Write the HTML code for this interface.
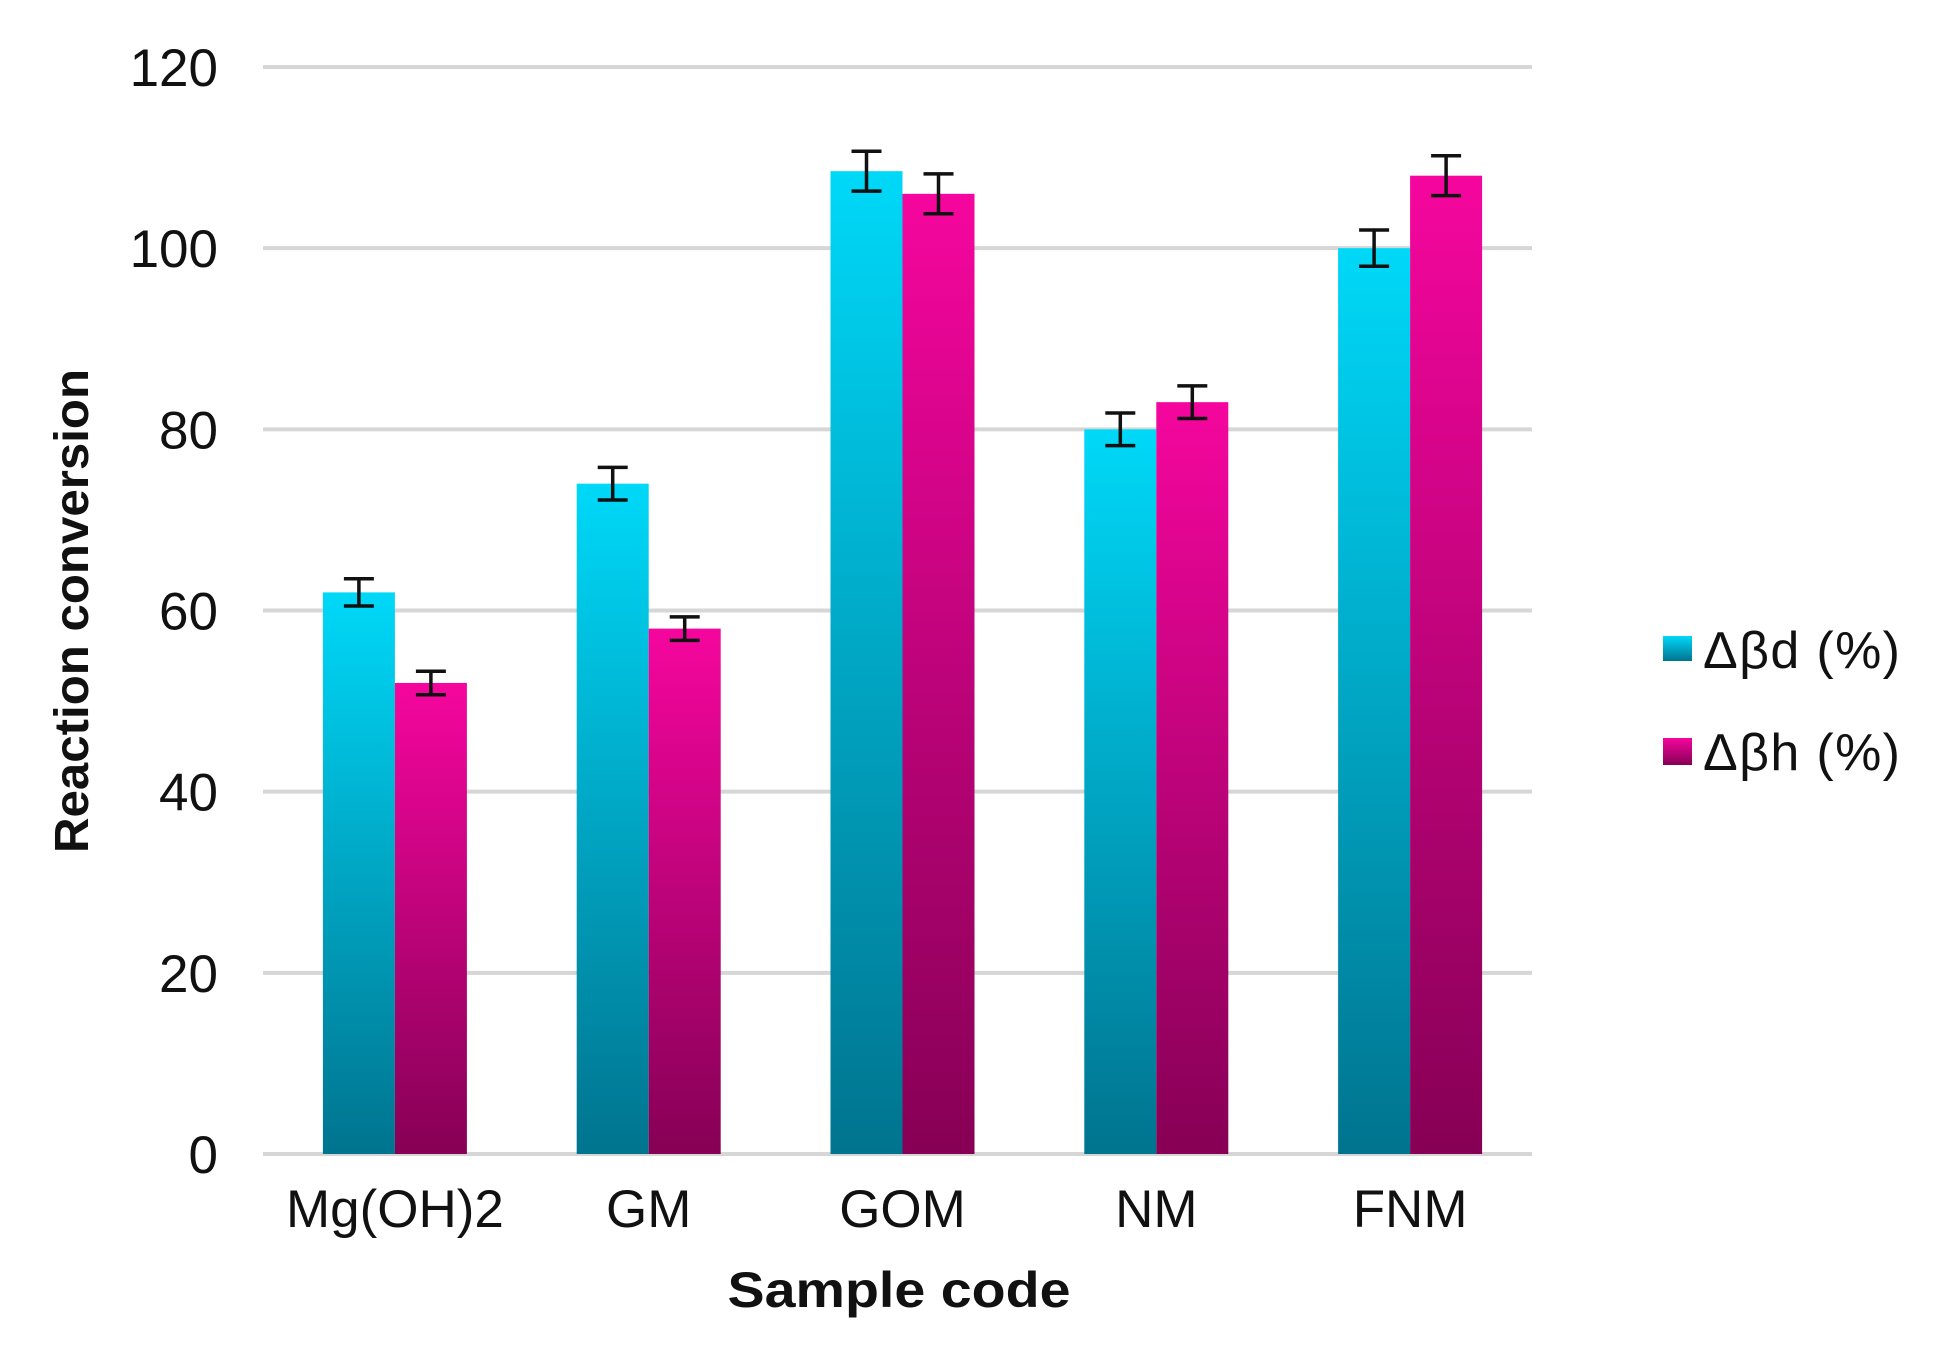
<!DOCTYPE html>
<html><head><meta charset="utf-8"><style>
html,body{margin:0;padding:0;background:#fff;}
svg{display:block;font-family:"Liberation Sans",Arial,sans-serif;}
</style></head><body>
<svg id="chart" width="1937" height="1353" viewBox="0 0 1937 1353">
<defs>
<linearGradient id="gc" x1="0" y1="0" x2="0" y2="1"><stop offset="0" stop-color="#00d8f8"/><stop offset="1" stop-color="#00748f"/></linearGradient>
<linearGradient id="gm" x1="0" y1="0" x2="0" y2="1"><stop offset="0" stop-color="#f5069e"/><stop offset="1" stop-color="#860055"/></linearGradient>
</defs>
<g id="grid"></g>
<g id="yticks"></g>
<g id="bars"></g>
<g id="xticks"></g>
<text transform="translate(88,611) rotate(-90)" text-anchor="middle" font-size="48" font-weight="bold" textLength="484" lengthAdjust="spacingAndGlyphs" fill="#111">Reaction conversion</text>
<text x="899" y="1307" text-anchor="middle" font-size="50" font-weight="bold" textLength="343" lengthAdjust="spacingAndGlyphs" fill="#111">Sample code</text>
<g>
<g><rect x="1663" y="636" width="29" height="25" fill="url(#gc)"/><text x="1703" y="668" font-size="52" textLength="197" fill="#111">Δβd (%)</text></g>
<g><rect x="1663" y="738" width="29" height="27" fill="url(#gm)"/><text x="1703" y="770" font-size="52" textLength="197" fill="#111">Δβh (%)</text></g>
</g>
</svg>
<script>
const categories = ["Mg(OH)2","GM","GOM","NM","FNM"];
const dbdValues = [62,74,108.5,80,100];
const dbhValues = [52,58,106,83,108];
const dbdErrors = [1.5,1.8,2.2,1.8,2];
const dbhErrors = [1.3,1.3,2.2,1.8,2.2];
const yTicks = [0,20,40,60,80,100,120];

const NS="http://www.w3.org/2000/svg";
const x0=263,x1=1532,yBase=1154,yTop=67,yMax=120;
const y=v=>yBase-(v/yMax)*(yBase-yTop);
const band=(x1-x0)/categories.length;
const cx=i=>x0+5+band*(i+0.5);
const bw=72;
function mk(tag,attrs,parent){const e=document.createElementNS(NS,tag);for(const k in attrs)e.setAttribute(k,attrs[k]);parent.appendChild(e);return e;}
const grid=document.getElementById('grid'),yt=document.getElementById('yticks'),bars=document.getElementById('bars'),xt=document.getElementById('xticks');
yTicks.forEach(t=>{
  const l=mk('line',{x1:x0,x2:x1,y1:y(t),y2:y(t),stroke:'#d6d6d6','stroke-width':4},grid);
  
  
  const tx=mk('text',{x:218,y:y(t)+19,'text-anchor':'end','font-size':53,fill:'#111'},yt);
  tx.textContent=t;
  
  
});
categories.forEach((c,i)=>{
  const series=[[dbdValues[i],dbdErrors[i],'url(#gc)',-bw,'dbd'],[dbhValues[i],dbhErrors[i],'url(#gm)',0,'dbh']];
  series.forEach(s=>{
    const r=mk('rect',{x:cx(i)+s[3],y:y(s[0]),width:bw,height:yBase-y(s[0]),fill:s[2]},bars);
    
    
    const ex=cx(i)+s[3]+bw/2;
    const g=mk('g',{stroke:'#111','stroke-width':3.5},bars);
    
    
    mk('line',{x1:ex,x2:ex,y1:y(s[0]+s[1]),y2:y(s[0]-s[1])},g);
    mk('line',{x1:ex-15,x2:ex+15,y1:y(s[0]+s[1]),y2:y(s[0]+s[1])},g);
    mk('line',{x1:ex-15,x2:ex+15,y1:y(s[0]-s[1]),y2:y(s[0]-s[1])},g);
  });
  const t=mk('text',{x:cx(i),y:1227,'text-anchor':'middle','font-size':53,fill:'#111'},xt);
  t.textContent=c;
  
  
});
</script>
</body></html>
